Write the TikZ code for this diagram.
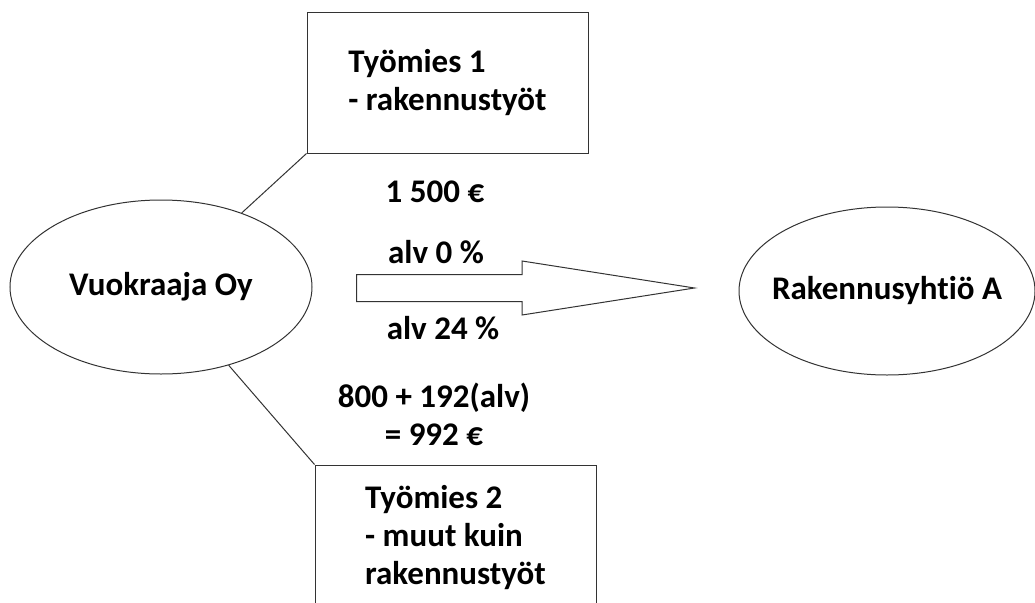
\documentclass[tikz,border=0pt]{standalone}
\usepackage{fontspec}
\setmainfont{Carlito}[Ligatures=NoCommon]
\usetikzlibrary{shapes.geometric, shapes.arrows}

\begin{document}
\begin{tikzpicture}[
    x=1pt, y=-1pt,
    txt/.style={font=\fontsize{33}{38}\selectfont\bfseries},
    party/.style={ellipse, draw=black!80, line width=1pt, inner xsep=-25pt, inner ysep=0pt, txt, #1},
    party/.default={},
    worker/.style={rectangle, draw=black!80, line width=1pt, minimum width=281, align=left, txt, #1},
    worker/.default={},
    note/.style={align=center, inner sep=0pt, txt},
    link/.style={draw=black!80, line width=1pt},
    flow/.style={single arrow, draw=black!80, line width=1pt, inner sep=0pt, text height=26pt, text depth=0pt,
                 minimum height=338, minimum width=53, single arrow head extend=13.5, single arrow tip angle=17.8}
]
\clip (0,0) rectangle (1035,602);

% === YRITYKSET ===
\node[party, minimum width=302, minimum height=174] (vuok) at (161,287) {Vuokraaja Oy};
\node[party, minimum width=296, minimum height=168] (rak) at (887,291) {Rakennusyhtiö A};

% === TYÖMIEHET ===
\node[worker, minimum height=140] (tm1) at (447.5,83) {Työmies 1\\- rakennustyöt};
\node[worker, minimum height=146] (tm2) at (455.5,538) {Työmies 2\\- muut kuin\\rakennustyöt};

% === NUOLI ===
\node[flow, anchor=tail] (nuoli) at (356,288) {};

% === TEKSTIT ===
\node[note] (hinta1) at (435,192) {1 500 €};
\node[note] (alv0) at (436,252) {alv 0 \%};
\node[note] (alv24) at (443,328) {alv 24 \%};
\node[note] (hinta2) at (434,414) {800 + 192(alv)\\= 992 €};

% === YHTEYDET ===
\draw[link] (vuok) -- (tm1.south west);
\draw[link] (vuok) -- (tm2.north west);

\end{tikzpicture}
\end{document}
